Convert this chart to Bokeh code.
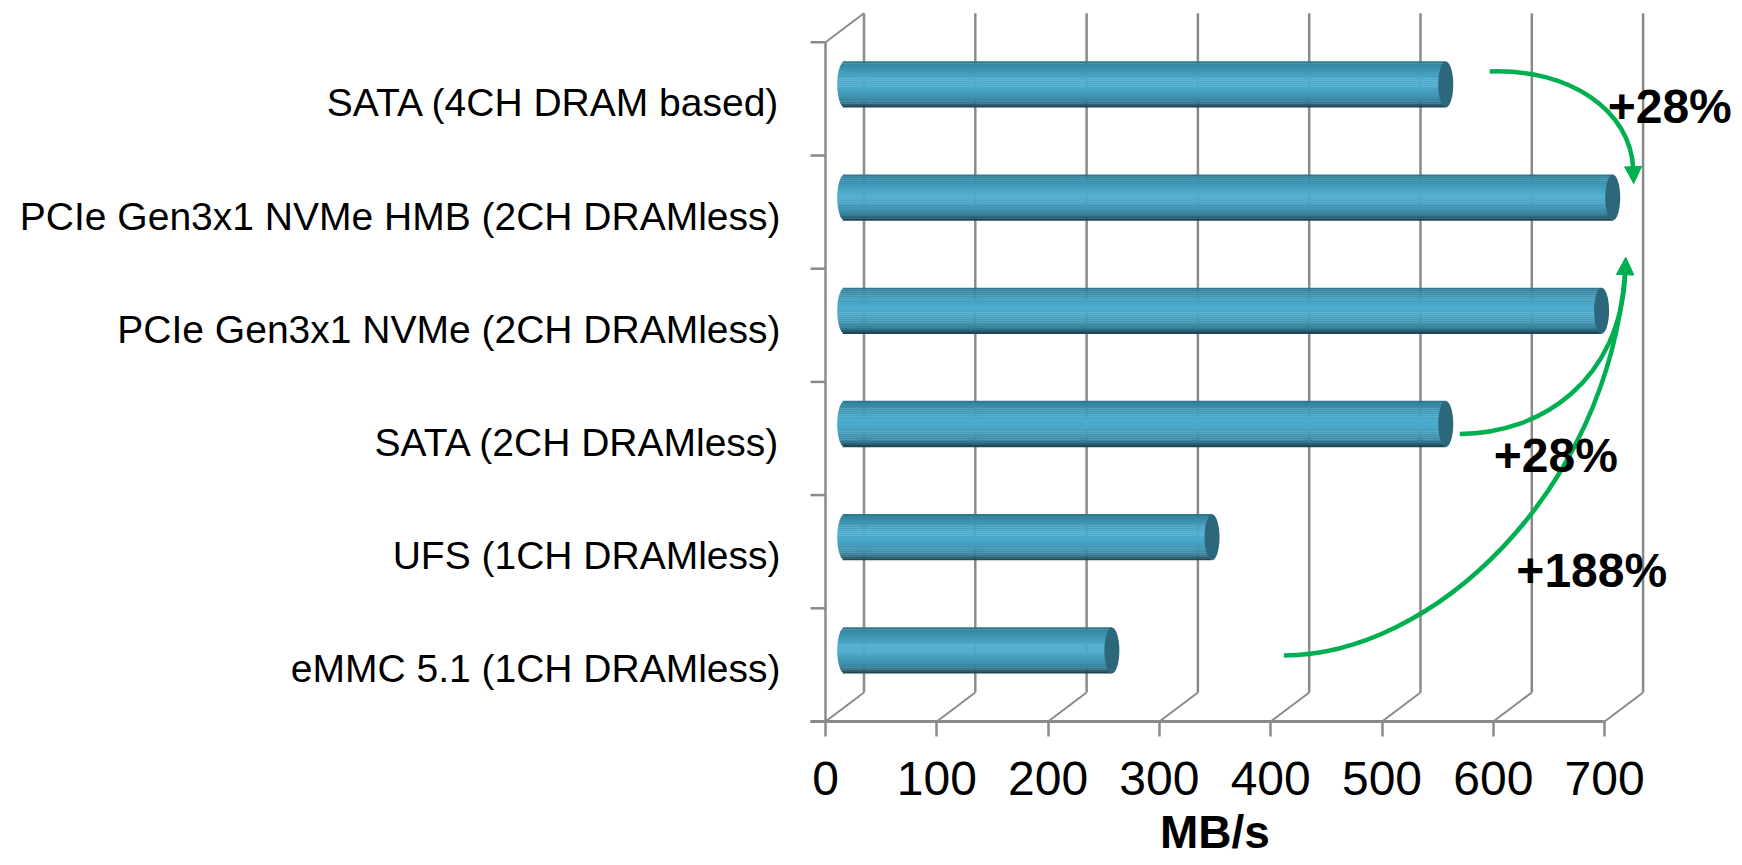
import math
from bokeh.plotting import figure
from bokeh.models import Range1d, FixedTicker, Arrow, NormalHead
from bokeh.core.properties import value
from bokeh.embed import file_html
from bokeh.resources import INLINE

# ---------------- data ----------------
categories = [
    "eMMC 5.1 (1CH DRAMless)",
    "UFS (1CH DRAMless)",
    "SATA (2CH DRAMless)",
    "PCIe Gen3x1 NVMe (2CH DRAMless)",
    "PCIe Gen3x1 NVMe HMB (2CH DRAMless)",
    "SATA (4CH DRAM based)",
]
speeds = [240, 330, 540, 680, 690, 540]
x_ticks = [0, 100, 200, 300, 400, 500, 600, 700]
axis_title = "MB/s"

# ---------------- layout / style ----------------
W, H = 1740, 864
FLOOR_PX = 721              # figure px (from top) of the front floor line
PX_PER_UNIT = 1.113         # px per MB/s
X0_PX = 825                 # figure px of value 0 on the front plane
BAND_PX = 113.2             # px per category band
DEPTH_X_PX, DEPTH_Y_PX = 38.5, 29

def sx(px):
    return px / PX_PER_UNIT

def sy(px):
    return px / BAND_PX

DX, DY = sx(DEPTH_X_PX), sy(DEPTH_Y_PX)
n_cat = len(categories)

p = figure(
    width=W, height=H, title=None,
    x_range=Range1d(-X0_PX / PX_PER_UNIT, (W - X0_PX) / PX_PER_UNIT),
    y_range=Range1d(-(H - FLOOR_PX) / BAND_PX, FLOOR_PX / BAND_PX),
    output_backend="svg", toolbar_location=None,
    y_axis_location=None,
    min_border=0,
    outline_line_color=None,
    background_fill_color="white", border_fill_color="white",
)
p.grid.visible = False

GRAY = "#8A8A8A"

# ---- 3D frame: back wall gridlines ----
xmax = x_ticks[-1]
p.segment(x0=[t + DX for t in x_ticks], y0=[DY] * len(x_ticks),
          x1=[t + DX for t in x_ticks], y1=[n_cat + DY] * len(x_ticks),
          line_color=GRAY, line_width=2.5)
# floor diagonals
p.segment(x0=x_ticks, y0=[0] * len(x_ticks),
          x1=[t + DX for t in x_ticks], y1=[DY] * len(x_ticks),
          line_color=GRAY, line_width=2)
# front floor edge
p.segment(x0=[-sx(15)], y0=[0], x1=[xmax], y1=[0], line_color=GRAY, line_width=3)
# left wall
p.segment(x0=[0], y0=[0], x1=[0], y1=[n_cat], line_color=GRAY, line_width=2.5)
p.segment(x0=[0], y0=[n_cat], x1=[DX], y1=[n_cat + DY], line_color=GRAY, line_width=2)
# category ticks
p.segment(x0=[-sx(15)] * (n_cat + 1), y0=list(range(n_cat + 1)),
          x1=[0] * (n_cat + 1), y1=list(range(n_cat + 1)),
          line_color=GRAY, line_width=2.5)

# ---- cylinders ----
stops = [(0.0, "#2B7088"), (0.06, "#3586A1"), (0.2, "#3F97B5"), (0.42, "#4DADCF"),
         (0.55, "#4BA9CA"), (0.75, "#4195B3"), (0.88, "#36809B"), (0.95, "#27596C"),
         (1.0, "#1A3A47")]

def hex2rgb(h):
    h = h.lstrip("#")
    return tuple(int(h[i:i + 2], 16) for i in (0, 2, 4))

def grad(t):
    for (t0, c0), (t1, c1) in zip(stops[:-1], stops[1:]):
        if t0 <= t <= t1:
            f = (t - t0) / (t1 - t0) if t1 > t0 else 0
            a, b = hex2rgb(c0), hex2rgb(c1)
            return "#%02x%02x%02x" % tuple(int(round(a[k] + (b[k] - a[k]) * f)) for k in range(3))
    return stops[-1][1]

bar_h = sy(46)
cap_w = sx(15)
n_strips = 24
ys, lefts, rights, cols = [], [], [], []
for i, v in enumerate(speeds):
    yc = i + 0.5 + DY / 2
    xl, xr = DX / 2, v + DX / 2
    for j in range(n_strips):
        t = (j + 0.5) / n_strips
        yy = yc + bar_h / 2 - t * bar_h
        rel = (yy - yc) / (bar_h / 2)
        ys.append(yy)
        lefts.append(xl - cap_w / 2 * math.sqrt(max(0.0, 1 - rel * rel)))
        rights.append(xr)
        cols.append(grad(t))
p.hbar(y=ys, left=lefts, right=rights, height=bar_h / n_strips * 1.15,
       fill_color=cols, line_color=None)
p.ellipse(x=[v + DX / 2 for v in speeds], y=[i + 0.5 + DY / 2 for i in range(n_cat)],
          width=cap_w, height=bar_h, fill_color="#2C677C", line_color=None)

# ---- arrows ----
GREEN = "#00B050"

def pt(v, band, dxp, dyp):
    """bar end of value v in band, offset by pixels (dyp positive = up)"""
    return (v + DX / 2 + sx(dxp), band + 0.5 + DY / 2 + sy(dyp))

def add_arrow(start, c1, c2, end, tip):
    p.bezier(x0=[start[0]], y0=[start[1]], x1=[end[0]], y1=[end[1]],
             cx0=[c1[0]], cy0=[c1[1]], cx1=[c2[0]], cy1=[c2[1]],
             line_color=GREEN, line_width=4.5)
    p.add_layout(Arrow(end=NormalHead(size=17, fill_color=GREEN, line_color=GREEN),
                       x_start=end[0], y_start=end[1], x_end=tip[0], y_end=tip[1],
                       line_color=GREEN, line_width=4.5))

i_sata4, i_hmb, i_sata2, i_emmc = 5, 4, 2, 0
# SATA 4CH -> HMB
s = pt(speeds[i_sata4], i_sata4, 44, 13)
tip = pt(speeds[i_hmb], i_hmb, 21, 14)
add_arrow(s, (s[0] + sx(80), s[1] + sy(3)), (tip[0] - sx(3), tip[1] + sy(73)),
          (tip[0] - sx(0.5), tip[1] + sy(15)), tip)
# SATA 2CH -> HMB
tip2 = pt(speeds[i_hmb], i_hmb, 13, -60)
s = pt(speeds[i_sata2], i_sata2, 14, -10)
add_arrow(s, (s[0] + sx(81), s[1]), (tip2[0] - sx(5), tip2[1] - sy(123)),
          (tip2[0] - sx(0.5), tip2[1] - sy(15)), tip2)
# eMMC -> HMB
s = pt(speeds[i_emmc], i_emmc, 172, -5)
add_arrow(s, (s[0] + sx(147), s[1]), (tip2[0] - sx(20), tip2[1] - sy(238)),
          (tip2[0] - sx(0.5), tip2[1] - sy(15)), tip2)

# ---- percentage annotations ----
def pct(a, b):
    return "+%d%%" % round((b / a - 1) * 100)

ann_text = [pct(speeds[i_sata4], speeds[i_hmb]), pct(speeds[i_sata2], speeds[i_hmb]),
            pct(speeds[i_emmc], speeds[i_hmb])]
ann_pos = [pt(speeds[i_hmb], i_sata4, 57, -22),
           pt(speeds[i_sata2], i_sata2, 110, -31),
           pt(speeds[i_sata2], i_sata2, 146, -146)]
p.text(x=[q[0] for q in ann_pos], y=[q[1] for q in ann_pos], text=ann_text,
       text_font=value("Liberation Sans"), text_font_style="bold",
       text_font_size="48px", text_align="center", text_baseline="middle",
       text_color="black")

# ---- category labels ----
p.text(x=[-sx(45)] * n_cat, y=[i + 0.5 - sy(4) for i in range(n_cat)], text=categories,
       text_font=value("Liberation Sans"), text_font_size="39px",
       text_align="right", text_baseline="middle", text_color="black")

# ---- x axis (fixed on the front floor edge) ----
ax = p.xaxis[0]
ax.fixed_location = 0
ax.bounds = (x_ticks[0], x_ticks[-1])
ax.ticker = FixedTicker(ticks=x_ticks)
ax.axis_line_color = None
ax.major_tick_in = 0
ax.major_tick_out = 15
ax.major_tick_line_color = GRAY
ax.major_tick_line_width = 2.5
ax.minor_tick_line_color = None
ax.major_label_text_font = "Liberation Sans"
ax.major_label_text_font_size = "48px"
ax.major_label_text_color = "black"
ax.major_label_standoff = 25
ax.axis_label = axis_title
ax.axis_label_text_font = "Liberation Sans"
ax.axis_label_text_font_style = "bold"
ax.axis_label_text_font_size = "46px"
ax.axis_label_text_color = "black"
ax.axis_label_standoff = 8

open("out.html", "w").write(file_html(p, INLINE))
